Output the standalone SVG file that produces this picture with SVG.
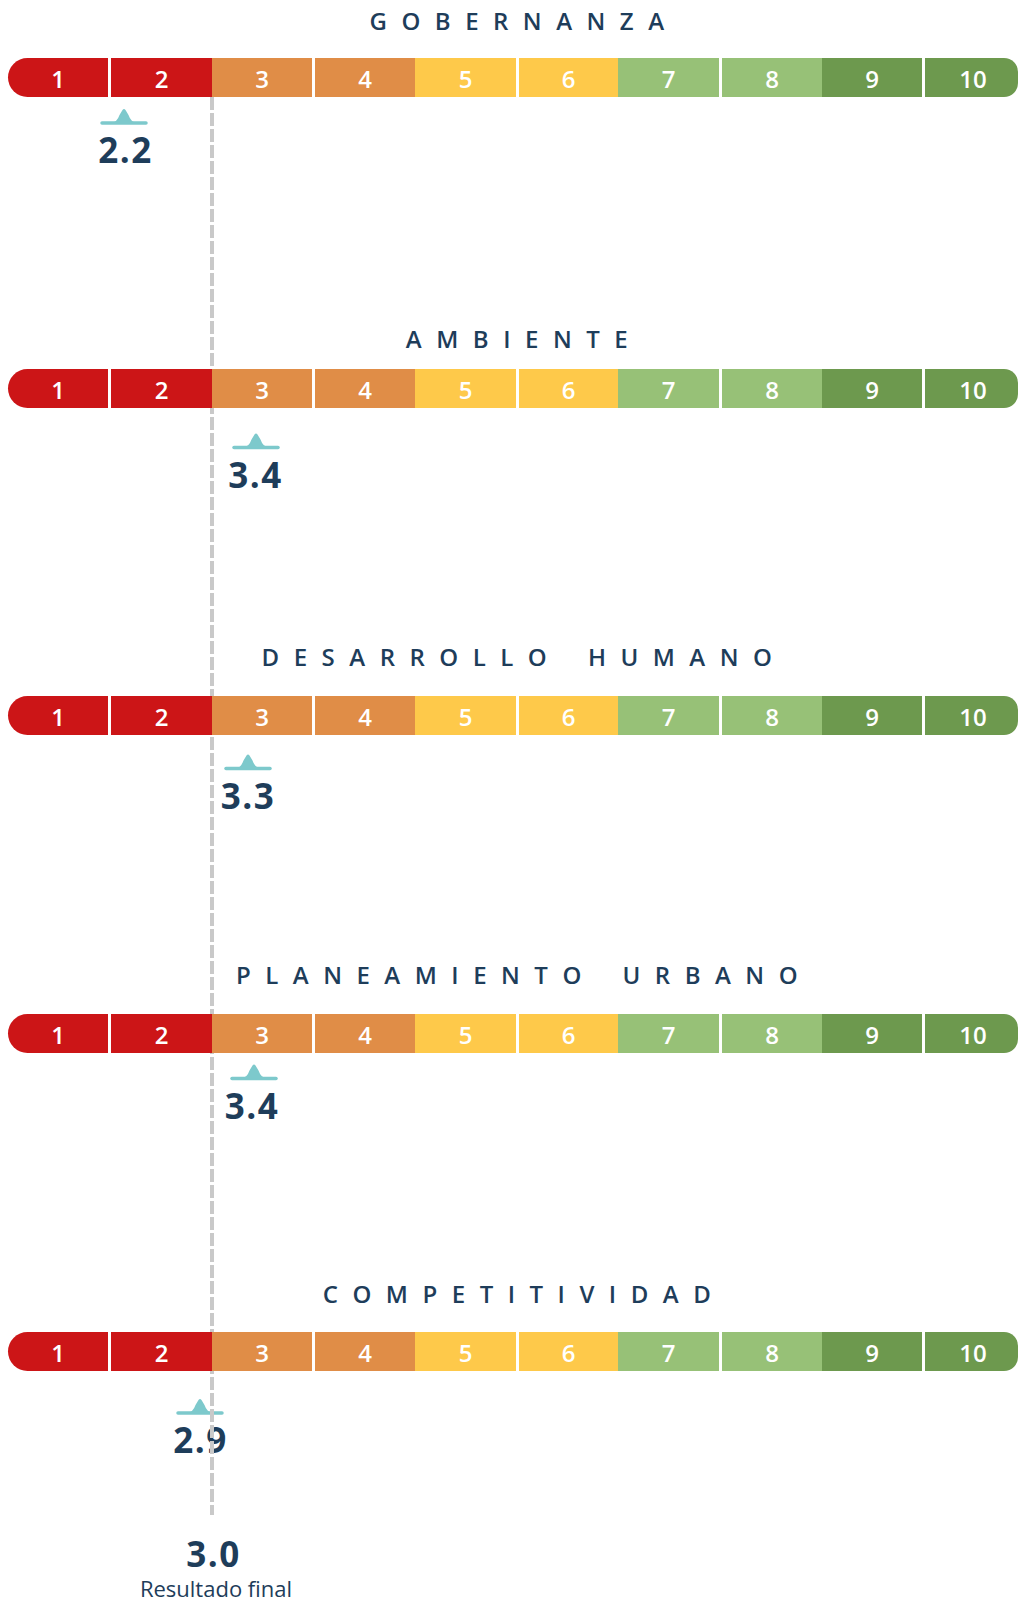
<svg xmlns="http://www.w3.org/2000/svg" width="1020" height="1602" viewBox="0 0 1020 1602">
<defs>
<style>
.bg{fill:#ffffff}
.r{fill:#cc1517}
.o{fill:#e08d47}
.y{fill:#fec94a}
.lg{fill:#97c177}
.dg{fill:#6d994e}
.n{font-family:"Open Sans","Liberation Sans",sans-serif;font-size:24px;font-weight:600;fill:#ffffff;text-anchor:middle}
.t{font-family:"Open Sans","Liberation Sans",sans-serif;font-size:24px;font-weight:600;fill:#1e3d5a;text-anchor:middle;letter-spacing:14.5px;word-spacing:6px}
.v{font-family:"Open Sans","Liberation Sans",sans-serif;font-size:35px;font-weight:700;fill:#1e3d5a;text-anchor:middle;letter-spacing:1.5px}
.s{font-family:"Open Sans","Liberation Sans",sans-serif;font-size:22px;font-weight:400;fill:#1e3d5a;text-anchor:middle}
.ml{stroke:#7dc9cc;stroke-width:3.5;stroke-linecap:round;fill:none}
.mt{fill:#7dc9cc}
.dash{stroke:#c9c9c9;stroke-width:4;stroke-dasharray:13 3;fill:none}
</style>
</defs>
<rect class="bg" x="0" y="0" width="1020" height="1602"/>

<!-- markers -->
<g id="marker-gobernanza">
<line class="ml" x1="102" y1="123" x2="146" y2="123"/>
<path class="mt" d="M111 123 Q117 122.5 119.5 115 L122.5 110 Q124 108 125.5 110 L128.5 115 Q131 122.5 137 123 Z"/>
<text class="v" x="125.5" y="163">2.2</text>
</g>
<g id="marker-ambiente">
<line class="ml" x1="234" y1="447.5" x2="278" y2="447.5"/>
<path class="mt" d="M243 447.5 Q249 447 251.5 439.5 L254.5 434.5 Q256 432.5 257.5 434.5 L260.5 439.5 Q263 447 269 447.5 Z"/>
<text class="v" x="255.5" y="488">3.4</text>
</g>
<g id="marker-desarrollo">
<line class="ml" x1="226" y1="768.5" x2="270" y2="768.5"/>
<path class="mt" d="M235 768.5 Q241 768 243.5 760.5 L246.5 755.5 Q248 753.5 249.5 755.5 L252.5 760.5 Q255 768 261 768.5 Z"/>
<text class="v" x="248" y="809">3.3</text>
</g>
<g id="marker-planeamiento">
<line class="ml" x1="232" y1="1078.5" x2="276" y2="1078.5"/>
<path class="mt" d="M241 1078.5 Q247 1078 249.5 1070.5 L252.5 1065.5 Q254 1063.5 255.5 1065.5 L258.5 1070.5 Q261 1078 267 1078.5 Z"/>
<text class="v" x="252" y="1119">3.4</text>
</g>
<g id="marker-competitividad">
<line class="ml" x1="178" y1="1413" x2="222" y2="1413"/>
<path class="mt" d="M187 1413 Q193 1412.5 195.5 1405 L198.5 1400 Q200 1398 201.5 1400 L204.5 1405 Q207 1412.5 213 1413 Z"/>
<text class="v" x="200.5" y="1453">2.9</text>
</g>

<!-- connector: final result dashed line -->
<g id="connectors">
<line class="dash" x1="212" y1="97" x2="212" y2="1515"/>
</g>

<g id="resultado-final">
<text class="v" x="213.5" y="1567">3.0</text>
<text class="s" x="216" y="1597">Resultado final</text>
</g>

<!-- bars -->
<g id="gobernanza">
<text class="t" x="524" y="30">GOBERNANZA</text>
<path class="r" d="M27.5 58H108v39H27.5a19.5 19.5 0 0 1 0-39z"/>
<rect class="r" x="111" y="58" width="101" height="39"/>
<rect class="o" x="212" y="58" width="100" height="39"/>
<rect class="o" x="315" y="58" width="100" height="39"/>
<rect class="y" x="415" y="58" width="101" height="39"/>
<rect class="y" x="519" y="58" width="99" height="39"/>
<rect class="lg" x="618" y="58" width="101" height="39"/>
<rect class="lg" x="722" y="58" width="100" height="39"/>
<rect class="dg" x="822" y="58" width="100" height="39"/>
<path class="dg" d="M925 58H1004a14 14 0 0 1 14 14v11a14 14 0 0 1-14 14H925z"/>
<text class="n" x="58" y="88">1</text><text class="n" x="161.5" y="88">2</text><text class="n" x="262" y="88">3</text><text class="n" x="365" y="88">4</text><text class="n" x="465.5" y="88">5</text><text class="n" x="568.5" y="88">6</text><text class="n" x="668.5" y="88">7</text><text class="n" x="772" y="88">8</text><text class="n" x="872" y="88">9</text><text class="n" x="973" y="88">10</text>
</g>

<g id="ambiente">
<text class="t" x="524" y="348">AMBIENTE</text>
<path class="r" d="M27.5 369H108v39H27.5a19.5 19.5 0 0 1 0-39z"/>
<rect class="r" x="111" y="369" width="101" height="39"/>
<rect class="o" x="212" y="369" width="100" height="39"/>
<rect class="o" x="315" y="369" width="100" height="39"/>
<rect class="y" x="415" y="369" width="101" height="39"/>
<rect class="y" x="519" y="369" width="99" height="39"/>
<rect class="lg" x="618" y="369" width="101" height="39"/>
<rect class="lg" x="722" y="369" width="100" height="39"/>
<rect class="dg" x="822" y="369" width="100" height="39"/>
<path class="dg" d="M925 369H1004a14 14 0 0 1 14 14v11a14 14 0 0 1-14 14H925z"/>
<text class="n" x="58" y="399">1</text><text class="n" x="161.5" y="399">2</text><text class="n" x="262" y="399">3</text><text class="n" x="365" y="399">4</text><text class="n" x="465.5" y="399">5</text><text class="n" x="568.5" y="399">6</text><text class="n" x="668.5" y="399">7</text><text class="n" x="772" y="399">8</text><text class="n" x="872" y="399">9</text><text class="n" x="973" y="399">10</text>
</g>

<g id="desarrollo-humano">
<text class="t" x="524" y="666">DESARROLLO HUMANO</text>
<path class="r" d="M27.5 696H108v39H27.5a19.5 19.5 0 0 1 0-39z"/>
<rect class="r" x="111" y="696" width="101" height="39"/>
<rect class="o" x="212" y="696" width="100" height="39"/>
<rect class="o" x="315" y="696" width="100" height="39"/>
<rect class="y" x="415" y="696" width="101" height="39"/>
<rect class="y" x="519" y="696" width="99" height="39"/>
<rect class="lg" x="618" y="696" width="101" height="39"/>
<rect class="lg" x="722" y="696" width="100" height="39"/>
<rect class="dg" x="822" y="696" width="100" height="39"/>
<path class="dg" d="M925 696H1004a14 14 0 0 1 14 14v11a14 14 0 0 1-14 14H925z"/>
<text class="n" x="58" y="726">1</text><text class="n" x="161.5" y="726">2</text><text class="n" x="262" y="726">3</text><text class="n" x="365" y="726">4</text><text class="n" x="465.5" y="726">5</text><text class="n" x="568.5" y="726">6</text><text class="n" x="668.5" y="726">7</text><text class="n" x="772" y="726">8</text><text class="n" x="872" y="726">9</text><text class="n" x="973" y="726">10</text>
</g>

<g id="planeamiento-urbano">
<text class="t" x="524" y="984">PLANEAMIENTO URBANO</text>
<path class="r" d="M27.5 1014H108v39H27.5a19.5 19.5 0 0 1 0-39z"/>
<rect class="r" x="111" y="1014" width="101" height="39"/>
<rect class="o" x="212" y="1014" width="100" height="39"/>
<rect class="o" x="315" y="1014" width="100" height="39"/>
<rect class="y" x="415" y="1014" width="101" height="39"/>
<rect class="y" x="519" y="1014" width="99" height="39"/>
<rect class="lg" x="618" y="1014" width="101" height="39"/>
<rect class="lg" x="722" y="1014" width="100" height="39"/>
<rect class="dg" x="822" y="1014" width="100" height="39"/>
<path class="dg" d="M925 1014H1004a14 14 0 0 1 14 14v11a14 14 0 0 1-14 14H925z"/>
<text class="n" x="58" y="1044">1</text><text class="n" x="161.5" y="1044">2</text><text class="n" x="262" y="1044">3</text><text class="n" x="365" y="1044">4</text><text class="n" x="465.5" y="1044">5</text><text class="n" x="568.5" y="1044">6</text><text class="n" x="668.5" y="1044">7</text><text class="n" x="772" y="1044">8</text><text class="n" x="872" y="1044">9</text><text class="n" x="973" y="1044">10</text>
</g>

<g id="competitividad">
<text class="t" x="524" y="1303">COMPETITIVIDAD</text>
<path class="r" d="M27.5 1332H108v39H27.5a19.5 19.5 0 0 1 0-39z"/>
<rect class="r" x="111" y="1332" width="101" height="39"/>
<rect class="o" x="212" y="1332" width="100" height="39"/>
<rect class="o" x="315" y="1332" width="100" height="39"/>
<rect class="y" x="415" y="1332" width="101" height="39"/>
<rect class="y" x="519" y="1332" width="99" height="39"/>
<rect class="lg" x="618" y="1332" width="101" height="39"/>
<rect class="lg" x="722" y="1332" width="100" height="39"/>
<rect class="dg" x="822" y="1332" width="100" height="39"/>
<path class="dg" d="M925 1332H1004a14 14 0 0 1 14 14v11a14 14 0 0 1-14 14H925z"/>
<text class="n" x="58" y="1362">1</text><text class="n" x="161.5" y="1362">2</text><text class="n" x="262" y="1362">3</text><text class="n" x="365" y="1362">4</text><text class="n" x="465.5" y="1362">5</text><text class="n" x="568.5" y="1362">6</text><text class="n" x="668.5" y="1362">7</text><text class="n" x="772" y="1362">8</text><text class="n" x="872" y="1362">9</text><text class="n" x="973" y="1362">10</text>
</g>
</svg>
